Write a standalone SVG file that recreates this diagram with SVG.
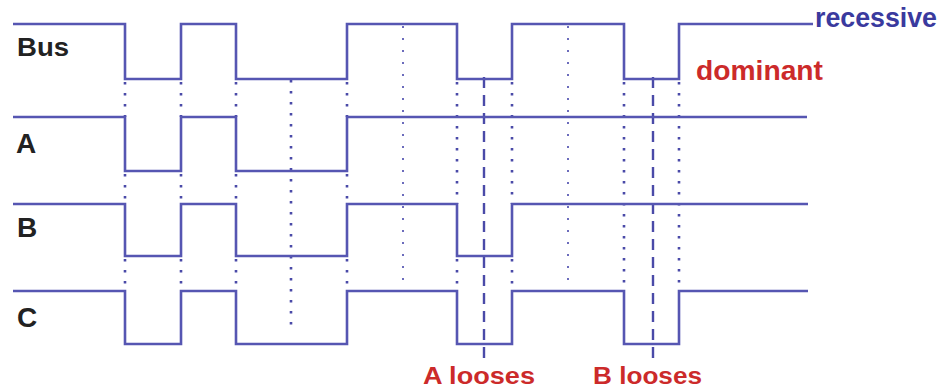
<svg xmlns="http://www.w3.org/2000/svg" width="946" height="389" viewBox="0 0 946 389">
<style>
.wave{fill:none;stroke:#5656b2;stroke-width:2.6;stroke-linejoin:miter}
.dot{fill:none;stroke:#4a4aa8;stroke-width:2.6;stroke-dasharray:2.5 8.5}
.ldot{fill:none;stroke:#6c6cbc;stroke-width:2;stroke-dasharray:2 10}
.dash{fill:none;stroke:#4a4aa8;stroke-width:2.4;stroke-dasharray:11 7}
.lbl{font-family:"Liberation Sans",Arial,sans-serif;font-weight:bold;fill:#222}
.red{font-family:"Liberation Sans",Arial,sans-serif;font-weight:bold;fill:#cc2a2a}
.blue{font-family:"Liberation Sans",Arial,sans-serif;font-weight:bold;fill:#3a3a9e}
</style>
<rect width="946" height="389" fill="#fff"/>
<g id="connectors">
<path class="dot" d="M125,82V117M181,82V117M236,82V117M347,82V117M125,174V204M181,174V204M236,174V204M347,174V204M125,259V291M181,259V291M236,259V291M347,259V291"/>
<path class="dot" d="M457,82V204M512,82V204M457,259V291M512,259V291M624,82V291M679,82V291"/>
<path class="dot" d="M291,80V333"/>
<path class="ldot" d="M403,26V282M568,26V282"/>
<path class="dash" d="M484,77V363M653,77V363"/>
</g>
<g id="bus">
<path class="wave" d="M13,24H125V79H181V24H236V79H347V24H457V79H512V24H624V79H679V24H813"/>
<text class="lbl" x="17" y="56" font-size="26" textLength="52" lengthAdjust="spacingAndGlyphs">Bus</text>
</g>
<g id="a">
<path class="wave" d="M13,117H125V171H181V117H236V171H347V117H807"/>
<text class="lbl" x="16" y="153" font-size="28">A</text>
</g>
<g id="b">
<path class="wave" d="M13,204H125V256H181V204H236V256H347V204H457V256H512V204H808"/>
<text class="lbl" x="17" y="237" font-size="28">B</text>
</g>
<g id="c">
<path class="wave" d="M13,291H125V344H181V291H236V344H347V291H457V344H512V291H624V344H679V291H808"/>
<text class="lbl" x="17" y="327" font-size="28">C</text>
</g>
<g id="recessive"><text class="blue" x="815" y="27" font-size="27" textLength="122" lengthAdjust="spacingAndGlyphs">recessive</text></g>
<g id="dominant"><text class="red" x="696" y="80" font-size="27" textLength="127" lengthAdjust="spacingAndGlyphs">dominant</text></g>
<g id="a-looses"><text class="red" x="423" y="384" font-size="23" textLength="112" lengthAdjust="spacingAndGlyphs">A looses</text></g>
<g id="b-looses"><text class="red" x="593" y="384" font-size="23" textLength="109" lengthAdjust="spacingAndGlyphs">B looses</text></g>
</svg>
